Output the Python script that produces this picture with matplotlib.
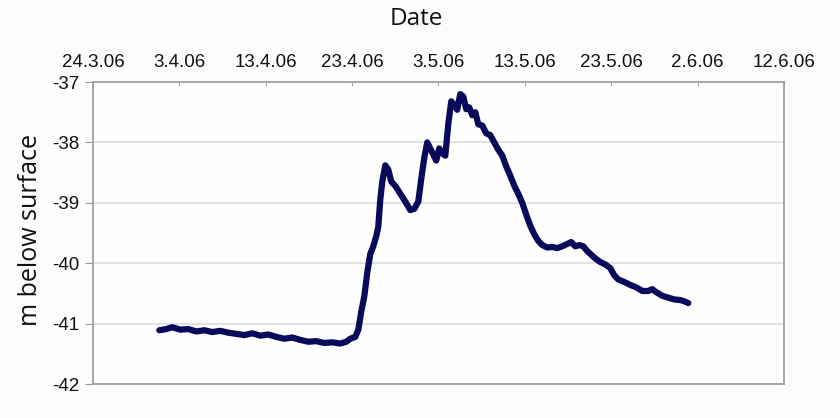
import datetime as dt
import matplotlib
matplotlib.use("Agg")
import matplotlib.pyplot as plt

# Water level record: elapsed days since 24.3.06 00:00 and depth (m below surface)
start = dt.datetime(2006, 3, 24)
elapsed_days = [
    7.68, 8.49, 9.18, 10.11, 11.03, 11.96, 12.89, 13.81, 14.74, 15.66,
    16.59, 17.52, 18.44, 19.37, 20.30, 21.22, 22.15, 23.07, 24.00, 24.93,
    25.85, 26.78, 27.71, 28.63, 29.33, 29.79, 30.37, 30.72, 31.06, 31.41,
    31.76, 32.10, 32.45, 32.80, 33.03, 33.26, 33.49, 33.84, 34.19, 34.54,
    35.00, 35.58, 36.16, 36.74, 37.20, 37.66, 38.01, 38.36, 38.70, 39.05,
    39.40, 39.74, 40.09, 40.44, 40.79, 41.13, 41.48, 41.83, 42.17, 42.52,
    42.87, 43.22, 43.56, 43.91, 44.26, 44.61, 45.07, 45.53, 46.00, 46.46,
    46.92, 47.39, 47.85, 48.31, 48.78, 49.24, 49.70, 50.17, 50.63, 51.09,
    51.55, 52.02, 52.60, 53.17, 53.75, 54.33, 54.91, 55.37, 55.84, 56.30,
    56.76, 57.23, 57.69, 58.15, 58.73, 59.31, 59.89, 60.35, 60.82, 61.51,
    62.21, 62.90, 63.60, 64.29, 64.75, 65.22, 65.91, 66.61, 67.30, 68.00,
    68.46, 68.92,
]
depth_m = [
    -41.11, -41.09, -41.06, -41.10, -41.09, -41.13, -41.11, -41.14, -41.12, -41.15,
    -41.17, -41.19, -41.16, -41.20, -41.18, -41.22, -41.25, -41.23, -41.27, -41.30,
    -41.29, -41.32, -41.31, -41.33, -41.30, -41.25, -41.22, -41.10, -40.80, -40.55,
    -40.15, -39.85, -39.72, -39.55, -39.40, -38.95, -38.65, -38.38, -38.45, -38.65,
    -38.72, -38.85, -38.98, -39.12, -39.10, -38.98, -38.60, -38.25, -38.00, -38.10,
    -38.20, -38.30, -38.10, -38.18, -38.22, -37.70, -37.32, -37.38, -37.46, -37.20,
    -37.24, -37.45, -37.42, -37.55, -37.50, -37.70, -37.72, -37.85, -37.88, -38.00,
    -38.12, -38.22, -38.40, -38.55, -38.72, -38.85, -39.00, -39.20, -39.38, -39.52,
    -39.63, -39.70, -39.74, -39.73, -39.75, -39.72, -39.68, -39.65, -39.72, -39.70,
    -39.72, -39.80, -39.86, -39.92, -39.98, -40.02, -40.08, -40.20, -40.27, -40.31,
    -40.36, -40.40, -40.46, -40.46, -40.43, -40.48, -40.54, -40.57, -40.60, -40.61,
    -40.63, -40.66,
]
tick_labels = ["24.3.06", "3.4.06", "13.4.06", "23.4.06", "3.5.06",
               "13.5.06", "23.5.06", "2.6.06", "12.6.06"]
tick_days = [0, 10, 20, 30, 40, 50, 60, 70, 80]
y_ticks = [-37, -38, -39, -40, -41, -42]

times = [start + dt.timedelta(days=d) for d in elapsed_days]
tick_times = [start + dt.timedelta(days=d) for d in tick_days]

bg = "#fcfcfc"
fig = plt.figure(figsize=(8.4, 4.18), dpi=100, facecolor=bg)
ax = fig.add_axes([0.1107, 0.0813, 0.8226, 0.7225], facecolor="#fefefe")

ax.plot(times, depth_m, color="#0a0a5c", lw=4.5, solid_joinstyle="round",
        solid_capstyle="round")

ax.set_xlim(tick_times[0], tick_times[-1])
ax.set_ylim(-42, -37)
ax.set_yticks(y_ticks)
ax.set_yticklabels([str(v) for v in y_ticks])
ax.set_xticks(tick_times)
ax.set_xticklabels(tick_labels)

ax.xaxis.tick_top()
ax.tick_params(axis="x", direction="in", length=3, color="#aaaaaa", pad=8,
               labelsize=13.5, labelcolor="#111111")
ax.tick_params(axis="y", direction="out", length=6, color="#999999", pad=4,
               labelsize=13.5, labelcolor="#111111")
for lbl in ax.get_xticklabels() + ax.get_yticklabels():
    lbl.set_fontfamily("Liberation Sans")

ax.grid(axis="y", color="#dcdcdc", lw=1.2)
ax.set_axisbelow(True)
for side in ["left", "bottom", "right", "top"]:
    ax.spines[side].set_color("#a0a0a0")
    ax.spines[side].set_linewidth(1.3)

# Axis titles
fig.text(416 / 840, 1 - 19 / 418, "Date", fontsize=17.5, family="Open Sans",
         color="#111111", ha="center", va="center")
fig.text(31 / 840, 1 - 230 / 418, "m below surface", fontsize=18,
         family="Open Sans", color="#111111", ha="center", va="center",
         rotation=90)

fig.savefig("out.png", dpi=100, facecolor=bg)
